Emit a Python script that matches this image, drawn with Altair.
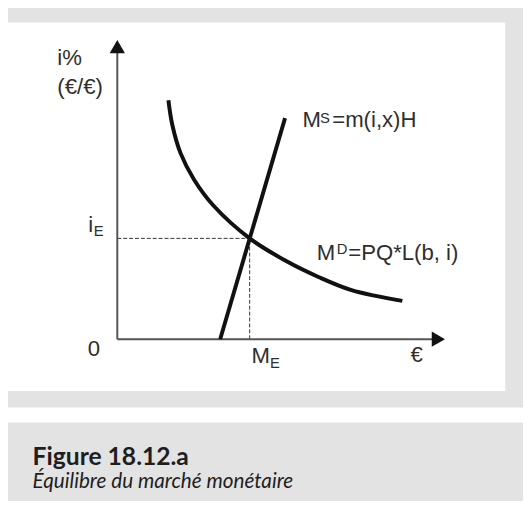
import altair as alt
import pandas as pd

# ---- data (economic units: axis tips = 100) ----
md_q = [15.6, 16.8, 19.3, 23.4, 29.4, 40.4, 51.4, 61.4, 71.5, 87.0]
md_i = [79.9, 71.6, 62.2, 53.4, 44.6, 33.7, 26.2, 20.8, 16.4, 12.8]
ms_q = [31.4, 51.2]
ms_i = [0.0, 73.9]
m_e = 40.4
i_e = 33.7

W, H = 523, 493
X_DOMAIN = [-33.36, 123.83]
Y_DOMAIN = [-52.83, 109.45]
xs = alt.Scale(domain=X_DOMAIN, nice=False, zero=False)
ys = alt.Scale(domain=Y_DOMAIN, nice=False, zero=False)
X = lambda f: alt.X(f, type="quantitative", scale=xs, axis=None)
Y = lambda f: alt.Y(f, type="quantitative", scale=ys, axis=None)

LABEL_FONT = "Liberation Sans"
CAP_FONT = "Lato"
INK = "#2e2e2e"
one = pd.DataFrame({"k": [0]})

# background panels
panel = alt.Chart(one).mark_rect(color="white").encode(
    x=alt.value(0), x2=alt.value(505), y=alt.value(11), y2=alt.value(385))
gap = alt.Chart(one).mark_rect(color="white").encode(
    x=alt.value(0), x2=alt.value(W), y=alt.value(402), y2=alt.value(417))

# axes
axes_df = pd.DataFrame({"x": [0, 0], "y": [0, 0], "x2": [0, 97], "y2": [97, 0]})
axes = alt.Chart(axes_df).mark_rule(color="#555555", strokeWidth=2).encode(
    x=X("x"), y=Y("y"), x2="x2", y2="y2")
arrows_df = pd.DataFrame({"x": [0, 98.0], "y": [97.8, 0], "s": ["triangle-up", "triangle-right"]})
arrows = alt.Chart(arrows_df).mark_point(filled=True, size=240, color="#111111", opacity=1).encode(
    x=X("x"), y=Y("y"), shape=alt.Shape("s:N", scale=None, legend=None))

# dashed guides
guides_df = pd.DataFrame({"x": [0, m_e], "y": [i_e, 0], "x2": [m_e, m_e], "y2": [i_e, i_e]})
guides = alt.Chart(guides_df).mark_rule(color="#333333", strokeWidth=1, strokeDash=[4, 2]).encode(
    x=X("x"), y=Y("y"), x2="x2", y2="y2")

# curves
md_df = pd.DataFrame({"q": md_q, "i": md_i})
md = alt.Chart(md_df).mark_line(color="#111111", strokeWidth=4, interpolate="catmull-rom").encode(
    x=X("q"), y=Y("i"), order="q")
ms_df = pd.DataFrame({"q": ms_q, "i": ms_i})
ms = alt.Chart(ms_df).mark_line(color="#111111", strokeWidth=4).encode(
    x=X("q"), y=Y("i"))

# annotation labels (positions in the same units)
big_df = pd.DataFrame({
    "t": ["i%", "(€/€)", "0", "i", "M", "€", "M", "=m(i,x)H", "M", "=PQ*L(b, i)"],
    "x": [-18.3, -18.3, -9.0, -8.9, 41.0, 89.5, 56.5, 65.6, 60.9, 70.5],
    "y": [91.8, 81.8, -5.5, 35.8, -7.8, -7.5, 70.9, 70.9, 26.5, 26.5],
})
big = alt.Chart(big_df).mark_text(font=LABEL_FONT, fontSize=22.5, align="left",
                                  baseline="alphabetic", color=INK).encode(
    x=X("x"), y=Y("y"), text="t:N")
small_df = pd.DataFrame({
    "t": ["E", "E", "S", "D"],
    "x": [-7.2, 46.6, 61.9, 67.0],
    "y": [34.4, -9.5, 72.2, 28.4],
})
small = alt.Chart(small_df).mark_text(font=LABEL_FONT, fontSize=15, align="left",
                                      baseline="alphabetic", color=INK).encode(
    x=X("x"), y=Y("y"), text="t:N")

# caption
cap1 = alt.Chart(one).mark_text(text="Figure 18.12.a", font=CAP_FONT, fontSize=25,
                                fontWeight="bold", align="left", baseline="alphabetic",
                                color="#1e1e1e").encode(x=alt.value(25), y=alt.value(460))
cap2 = alt.Chart(one).mark_text(text="Équilibre du marché monétaire", font=CAP_FONT,
                                fontSize=21, fontStyle="italic", align="left",
                                baseline="alphabetic", color="#1e1e1e").encode(
    x=alt.value(25), y=alt.value(484))

chart = alt.layer(panel, gap, guides, axes, arrows, md, ms, big, small, cap1, cap2).properties(
    width=W, height=H, autosize=alt.AutoSizeParams(type="none"),
    padding={"left": 0, "right": 0, "top": 0, "bottom": 0},
    background="#e3e3e3",
).configure_view(stroke=None)

chart.save("out.html", embed_options={"renderer": "svg", "actions": False})
